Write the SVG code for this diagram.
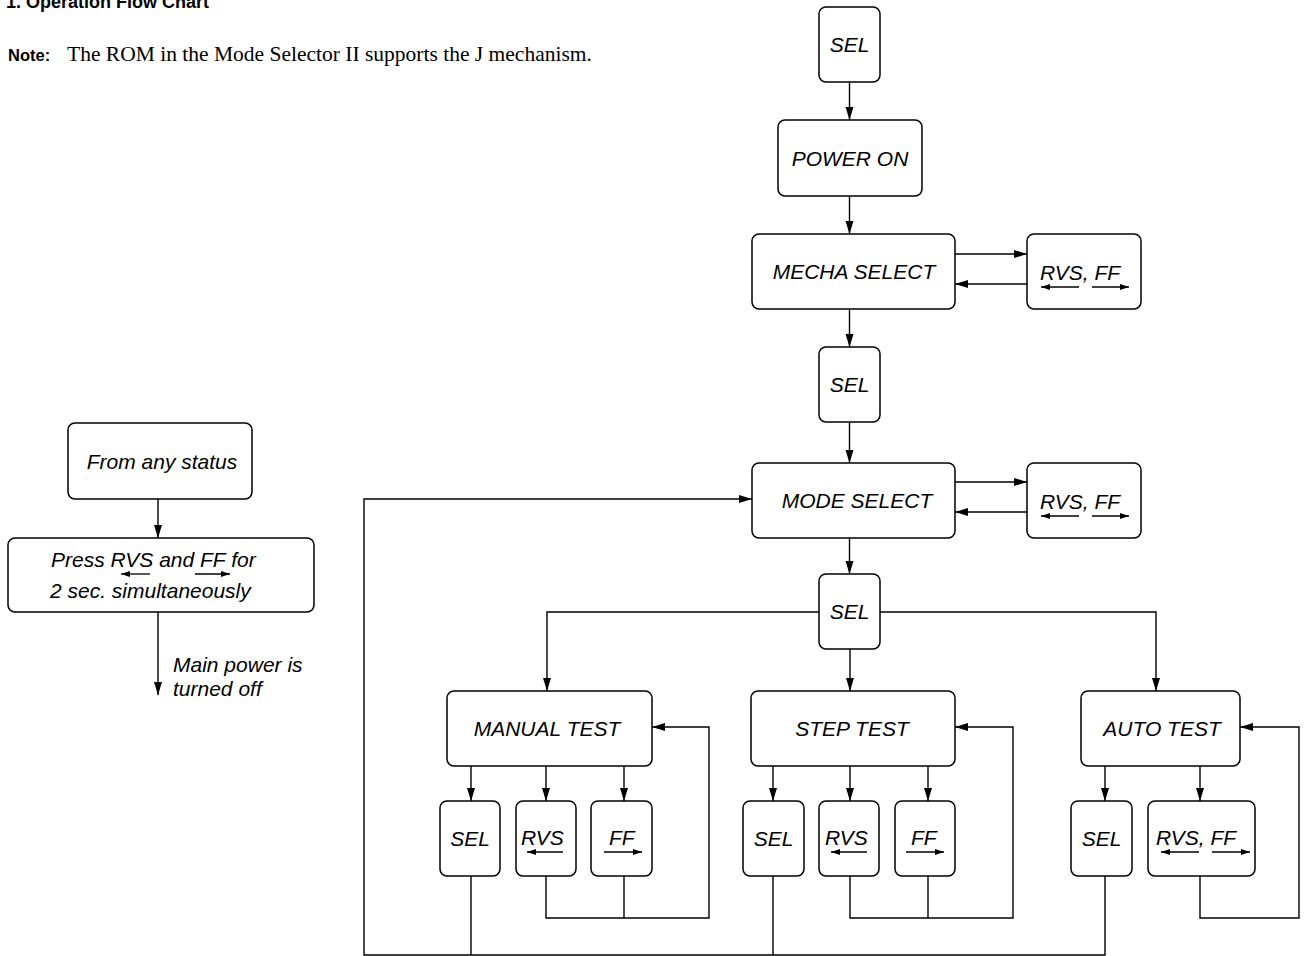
<svg xmlns="http://www.w3.org/2000/svg" width="1305" height="956" viewBox="0 0 1305 956">
<style>
.box{fill:#fff;stroke:#000;stroke-width:1.5}
.lbl{font-family:"Liberation Sans",Arial,sans-serif;font-style:italic;font-size:21px;fill:#000}
.mid{text-anchor:middle}
.con{fill:none;stroke:#000;stroke-width:1.4}
.ua{fill:none;stroke:#000;stroke-width:1.3}
.title{font-family:"Liberation Sans",Arial,sans-serif;font-weight:bold;font-size:18px}
.note{font-family:"Liberation Serif","Times New Roman",serif;font-size:21.5px}
</style>
<defs>
<marker id="ah" markerUnits="userSpaceOnUse" markerWidth="14" markerHeight="9" refX="13" refY="4" orient="auto"><path d="M0,0 L13,4 L0,8 z" fill="#000"/></marker>
<marker id="sa" markerUnits="userSpaceOnUse" markerWidth="10" markerHeight="7" refX="9" refY="3" orient="auto"><path d="M0,0 L9,3 L0,6 z" fill="#000"/></marker>
</defs>
<rect width="1305" height="956" fill="#fff"/>
<text class="title" x="6" y="8">1.  Operation Flow Chart</text>
<text x="8" y="61"><tspan class="title" style="font-size:16.5px">Note:</tspan><tspan class="note" x="67">The ROM in the Mode Selector II supports the J mechanism.</tspan></text>

<g id="connectors">
<line class="con" x1="849.5" y1="82" x2="849.5" y2="120" marker-end="url(#ah)"/>
<line class="con" x1="849.5" y1="196" x2="849.5" y2="234" marker-end="url(#ah)"/>
<line class="con" x1="955" y1="254" x2="1027" y2="254" marker-end="url(#ah)"/>
<line class="con" x1="1027" y1="284" x2="955" y2="284" marker-end="url(#ah)"/>
<line class="con" x1="849.5" y1="309" x2="849.5" y2="347" marker-end="url(#ah)"/>
<line class="con" x1="849.5" y1="422" x2="849.5" y2="463" marker-end="url(#ah)"/>
<line class="con" x1="955" y1="482" x2="1027" y2="482" marker-end="url(#ah)"/>
<line class="con" x1="1027" y1="512" x2="955" y2="512" marker-end="url(#ah)"/>
<line class="con" x1="849.5" y1="538" x2="849.5" y2="574" marker-end="url(#ah)"/>
<path class="con" d="M819,612 H547 V691" marker-end="url(#ah)"/>
<path class="con" d="M880,612 H1156 V691" marker-end="url(#ah)"/>
<line class="con" x1="850" y1="649" x2="850" y2="691" marker-end="url(#ah)"/>
<line class="con" x1="471" y1="766" x2="471" y2="801" marker-end="url(#ah)"/>
<line class="con" x1="546" y1="766" x2="546" y2="801" marker-end="url(#ah)"/>
<line class="con" x1="624" y1="766" x2="624" y2="801" marker-end="url(#ah)"/>
<line class="con" x1="773" y1="766" x2="773" y2="801" marker-end="url(#ah)"/>
<line class="con" x1="850" y1="766" x2="850" y2="801" marker-end="url(#ah)"/>
<line class="con" x1="928" y1="766" x2="928" y2="801" marker-end="url(#ah)"/>
<line class="con" x1="1105" y1="766" x2="1105" y2="801" marker-end="url(#ah)"/>
<line class="con" x1="1200" y1="766" x2="1200" y2="801" marker-end="url(#ah)"/>
<path class="con" d="M546,876 V918 H709 V727 H652" marker-end="url(#ah)"/>
<line class="con" x1="624" y1="876" x2="624" y2="918"/>
<path class="con" d="M850,876 V918 H1013 V727 H955" marker-end="url(#ah)"/>
<line class="con" x1="928" y1="876" x2="928" y2="918"/>
<path class="con" d="M1200,876 V918 H1299 V727 H1240" marker-end="url(#ah)"/>
<line class="con" x1="471" y1="876" x2="471" y2="955"/>
<line class="con" x1="773" y1="876" x2="773" y2="955"/>
<path class="con" d="M1105,876 V955 H364 V499 H752" marker-end="url(#ah)"/>
<line class="con" x1="158" y1="499" x2="158" y2="538" marker-end="url(#ah)"/>
<line class="con" x1="158" y1="612" x2="158" y2="695" marker-end="url(#ah)"/>
</g>

<g id="sel-top"><rect class="box" x="819" y="7" width="61" height="75" rx="7"/><text class="lbl mid" x="849.5" y="52">SEL</text></g>
<g id="power-on"><rect class="box" x="778" y="120" width="144" height="76" rx="7"/><text class="lbl mid" x="850" y="165.5">POWER ON</text></g>
<g id="mecha-select"><rect class="box" x="752" y="234" width="203" height="75" rx="7"/><text class="lbl mid" x="854" y="279">MECHA SELECT</text></g>
<g id="mecha-rvsff"><rect class="box" x="1027" y="234" width="114" height="75" rx="7"/><text class="lbl" x="1040" y="280">RVS, FF</text>
<line class="ua" x1="1079" y1="287" x2="1041" y2="287" marker-end="url(#sa)"/><line class="ua" x1="1092" y1="287" x2="1129" y2="287" marker-end="url(#sa)"/></g>
<g id="sel-mid"><rect class="box" x="819" y="347" width="61" height="75" rx="7"/><text class="lbl mid" x="849.5" y="392">SEL</text></g>
<g id="mode-select"><rect class="box" x="752" y="463" width="203" height="75" rx="7"/><text class="lbl mid" x="857" y="508">MODE SELECT</text></g>
<g id="mode-rvsff"><rect class="box" x="1027" y="463" width="114" height="75" rx="7"/><text class="lbl" x="1040" y="509">RVS, FF</text>
<line class="ua" x1="1079" y1="516" x2="1041" y2="516" marker-end="url(#sa)"/><line class="ua" x1="1092" y1="516" x2="1129" y2="516" marker-end="url(#sa)"/></g>
<g id="sel-branch"><rect class="box" x="819" y="574" width="61" height="75" rx="7"/><text class="lbl mid" x="849.5" y="619">SEL</text></g>

<g id="manual-test"><rect class="box" x="447" y="691" width="205" height="75" rx="7"/><text class="lbl mid" x="547" y="736">MANUAL TEST</text></g>
<g id="manual-sel"><rect class="box" x="440" y="801" width="60" height="75" rx="7"/><text class="lbl mid" x="470" y="846">SEL</text></g>
<g id="manual-rvs"><rect class="box" x="516" y="801" width="60" height="75" rx="7"/><text class="lbl" x="521" y="845">RVS</text>
<line class="ua" x1="563" y1="852" x2="527" y2="852" marker-end="url(#sa)"/></g>
<g id="manual-ff"><rect class="box" x="591" y="801" width="61" height="75" rx="7"/><text class="lbl" x="609" y="845">FF</text>
<line class="ua" x1="604" y1="852" x2="642" y2="852" marker-end="url(#sa)"/></g>

<g id="step-test"><rect class="box" x="751" y="691" width="204" height="75" rx="7"/><text class="lbl mid" x="852" y="736">STEP TEST</text></g>
<g id="step-sel"><rect class="box" x="743" y="801" width="61" height="75" rx="7"/><text class="lbl mid" x="773.5" y="846">SEL</text></g>
<g id="step-rvs"><rect class="box" x="819" y="801" width="60" height="75" rx="7"/><text class="lbl" x="825" y="845">RVS</text>
<line class="ua" x1="867" y1="852" x2="831" y2="852" marker-end="url(#sa)"/></g>
<g id="step-ff"><rect class="box" x="895" y="801" width="60" height="75" rx="7"/><text class="lbl" x="911" y="845">FF</text>
<line class="ua" x1="906" y1="852" x2="944" y2="852" marker-end="url(#sa)"/></g>

<g id="auto-test"><rect class="box" x="1081" y="691" width="159" height="75" rx="7"/><text class="lbl mid" x="1162" y="736">AUTO TEST</text></g>
<g id="auto-sel"><rect class="box" x="1071" y="801" width="61" height="75" rx="7"/><text class="lbl mid" x="1101.5" y="846">SEL</text></g>
<g id="auto-rvsff"><rect class="box" x="1148" y="801" width="107" height="75" rx="7"/><text class="lbl" x="1156" y="845">RVS, FF</text>
<line class="ua" x1="1199" y1="852" x2="1161" y2="852" marker-end="url(#sa)"/><line class="ua" x1="1212" y1="852" x2="1250" y2="852" marker-end="url(#sa)"/></g>

<g id="from-any-status"><rect class="box" x="68" y="423" width="184" height="76" rx="7"/><text class="lbl mid" x="162" y="469">From any status</text></g>
<g id="press-rvs-ff"><rect class="box" x="8" y="538" width="306" height="74" rx="7"/>
<text class="lbl" x="51" y="567">Press RVS and FF for</text>
<line class="ua" x1="150" y1="574" x2="121" y2="574" marker-end="url(#sa)"/><line class="ua" x1="195" y1="574" x2="230" y2="574" marker-end="url(#sa)"/>
<text class="lbl" x="50" y="598">2 sec. simultaneously</text></g>
<g id="main-power-off"><text class="lbl" x="173" y="672">Main power is</text><text class="lbl" x="173" y="696">turned off</text></g>
</svg>
